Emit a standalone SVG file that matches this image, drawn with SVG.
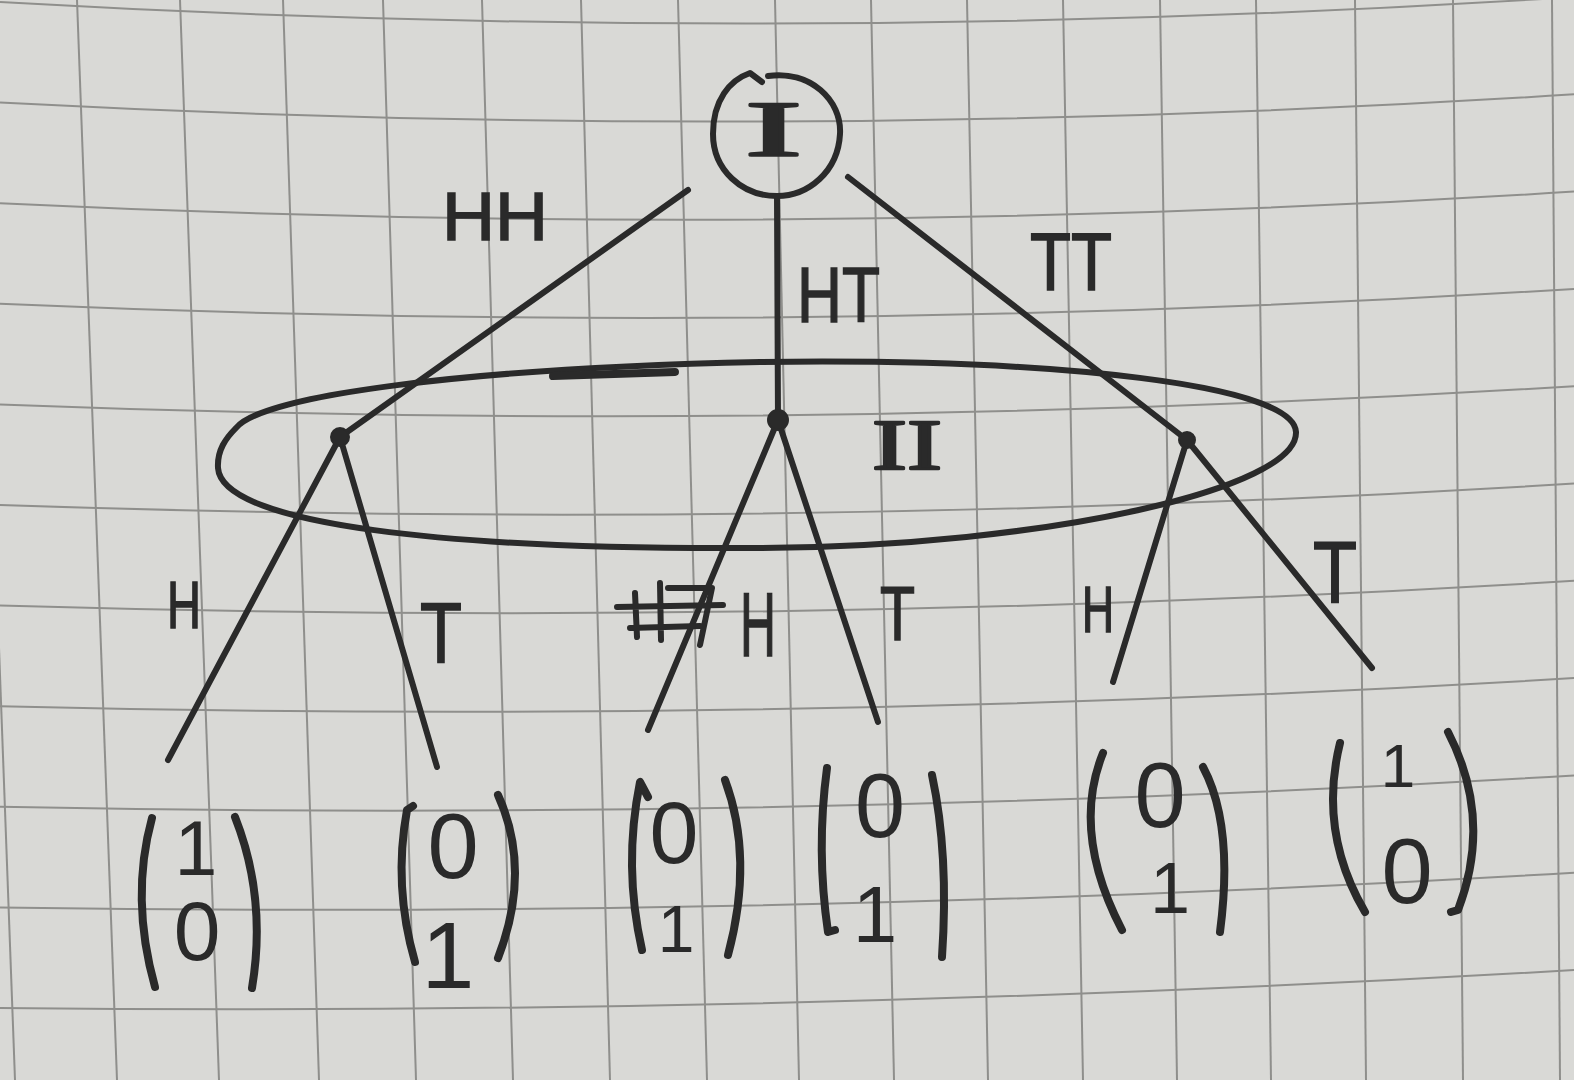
<svg xmlns="http://www.w3.org/2000/svg" width="1574" height="1080" viewBox="0 0 1574 1080">
<style>
.grid{fill:none;stroke:#8f8f8c;stroke-width:2}
.ink{fill:none;stroke:#2a2a2a;stroke-linecap:round;stroke-linejoin:round}
.edge{stroke-width:6}
.paren{stroke-width:8}
.dot{fill:#2a2a2a;stroke:#2a2a2a;stroke-width:2}
.lbl{font-family:"Liberation Sans",Arial,sans-serif;fill:#2a2a2a;stroke:#2a2a2a;stroke-width:1.5}
.num{font-family:"Liberation Sans",Arial,sans-serif;fill:#2a2a2a;text-anchor:middle}
.roman{font-family:"Liberation Serif","Times New Roman",serif;fill:#2a2a2a;stroke:#2a2a2a;stroke-width:2.5;stroke-linejoin:round}
</style>
<rect width="1574" height="1080" fill="#d9d9d6"/>
<g id="grid">
<path class="grid" d="M0 2 Q787 47.5 1574 -3"/>
<path class="grid" d="M0 102.6 Q787 144.4 1574 94.3"/>
<path class="grid" d="M0 203.2 Q787 241.3 1574 191.6"/>
<path class="grid" d="M0 303.8 Q787 338.2 1574 288.9"/>
<path class="grid" d="M0 404.4 Q787 435 1574 386.2"/>
<path class="grid" d="M0 505 Q787 532 1574 483.5"/>
<path class="grid" d="M0 605.6 Q787 628.8 1574 580.8"/>
<path class="grid" d="M0 706.2 Q787 725.6 1574 678.1"/>
<path class="grid" d="M0 806.8 Q787 822.4 1574 775.4"/>
<path class="grid" d="M0 907.4 Q787 919.3 1574 872.7"/>
<path class="grid" d="M0 1008 Q787 1016.2 1574 970"/>
<path class="grid" d="M-25 0 L15 1080"/>
<path class="grid" d="M77 0 L117 1080"/>
<path class="grid" d="M180 0 L219 1080"/>
<path class="grid" d="M283 0 L319 1080"/>
<path class="grid" d="M383 0 L416 1080"/>
<path class="grid" d="M482 0 L513 1080"/>
<path class="grid" d="M581 0 L610 1080"/>
<path class="grid" d="M678 0 L707 1080"/>
<path class="grid" d="M775 0 L799 1080"/>
<path class="grid" d="M871 0 L894 1080"/>
<path class="grid" d="M967 0 L988 1080"/>
<path class="grid" d="M1063 0 L1083 1080"/>
<path class="grid" d="M1160 0 L1177 1080"/>
<path class="grid" d="M1256 0 L1271 1080"/>
<path class="grid" d="M1355 0 L1366 1080"/>
<path class="grid" d="M1453 0 L1463 1080"/>
<path class="grid" d="M1552 0 L1560 1080"/>
</g>
<g id="info-set-II">
<path class="ink" stroke-width="6" d="M236 428 C262 395 470 368 760 362 C1060 358 1294 385 1296 432 C1298 488 1050 546 760 548 C450 550 222 525 218 468 C217 450 226 438 236 428 Z"/>
<path class="ink" d="M553 376 L675 372" stroke-width="8"/>
<text class="roman" x="872" y="469" font-size="72" textLength="70" lengthAdjust="spacingAndGlyphs">II</text>
</g>
<g id="connectors">
<path class="ink edge" d="M688 190 L340 437"/>
<path class="ink edge" d="M777 196 L778 420"/>
<path class="ink edge" d="M848 177 L1187 440"/>
<path class="ink edge" d="M340 437 L168 760"/>
<path class="ink edge" d="M340 437 L437 767"/>
<path class="ink edge" d="M778 420 L648 730"/>
<path class="ink edge" d="M778 420 L878 722"/>
<path class="ink edge" d="M1187 440 L1113 682"/>
<path class="ink edge" d="M1187 440 L1372 668"/>
</g>
<g id="edge-labels">
<text class="lbl" x="442" y="240" font-size="68" textLength="106" lengthAdjust="spacingAndGlyphs">HH</text>
<text class="lbl" x="797" y="322" font-size="78" textLength="83" lengthAdjust="spacingAndGlyphs">HT</text>
<text class="lbl" x="1030" y="290" font-size="82" textLength="82" lengthAdjust="spacingAndGlyphs">TT</text>
<text class="lbl" x="167" y="628" font-size="66" textLength="34" lengthAdjust="spacingAndGlyphs">H</text>
<text class="lbl" x="420" y="662" font-size="86" textLength="42" lengthAdjust="spacingAndGlyphs">T</text>
<g id="scribble">
<path class="ink" stroke-width="6" d="M617 607 L723 605 M630 628 L700 626 M635 593 L637 637 M660 583 L661 640 M668 588 L712 588 L700 645"/>
</g>
<text class="lbl" x="740" y="656" font-size="90" textLength="36" lengthAdjust="spacingAndGlyphs">H</text>
<text class="lbl" x="880" y="640" font-size="76" textLength="35" lengthAdjust="spacingAndGlyphs">T</text>
<text class="lbl" x="1082" y="632" font-size="65" textLength="32" lengthAdjust="spacingAndGlyphs">H</text>
<text class="lbl" x="1313" y="602" font-size="87" textLength="44" lengthAdjust="spacingAndGlyphs">T</text>
</g>
<g id="node-root">
<path class="ink" stroke-width="6" d="M768 76 C810 70 842 100 840 134 C838 172 808 196 777 196 C742 196 713 170 713 134 C713 100 730 80 750 73 L762 82"/>
<text class="roman" x="745" y="155" font-size="78" textLength="57" lengthAdjust="spacingAndGlyphs">I</text>
</g>
<g id="node-HH"><circle class="dot" cx="340" cy="437" r="9"/></g>
<g id="node-HT"><circle class="dot" cx="778" cy="420" r="10"/></g>
<g id="node-TT"><circle class="dot" cx="1187" cy="440" r="8"/></g>
<g id="leaf-1">
<path class="ink paren" d="M152 818 Q130 898 155 987"/>
<path class="ink paren" d="M235 817 Q267 898 252 988"/>
<text class="num" x="196" y="875" font-size="77">1</text>
<text class="num" x="197" y="960" font-size="84">0</text>
</g>
<g id="leaf-2">
<path class="ink paren" d="M413 806 L407 810 Q393 886 415 962"/>
<path class="ink paren" d="M498 795 Q532 870 498 958"/>
<text class="num" x="453" y="878" font-size="92">0</text>
<text class="num" x="448" y="988" font-size="95">1</text>
</g>
<g id="leaf-3">
<path class="ink paren" d="M648 797 L640 782 Q623 866 642 950"/>
<path class="ink paren" d="M725 780 Q754 858 728 955"/>
<text class="num" x="674" y="863" font-size="88">0</text>
<text class="num" x="676" y="952" font-size="66">1</text>
</g>
<g id="leaf-4">
<path class="ink paren" d="M827 768 Q816 850 828 932 L835 930"/>
<path class="ink paren" d="M932 775 Q949 854 942 957"/>
<text class="num" x="880" y="837" font-size="90">0</text>
<text class="num" x="875" y="942" font-size="80">1</text>
</g>
<g id="leaf-5">
<path class="ink paren" d="M1103 753 Q1071 832 1122 930"/>
<path class="ink paren" d="M1203 767 Q1234 825 1220 932"/>
<text class="num" x="1160" y="827" font-size="92">0</text>
<text class="num" x="1170" y="913" font-size="72">1</text>
</g>
<g id="leaf-6">
<path class="ink paren" d="M1340 743 Q1318 832 1365 912"/>
<path class="ink paren" d="M1448 732 Q1493 819 1458 910 L1451 912"/>
<text class="num" x="1398" y="787" font-size="62">1</text>
<text class="num" x="1407" y="903" font-size="92">0</text>
</g>
</svg>
